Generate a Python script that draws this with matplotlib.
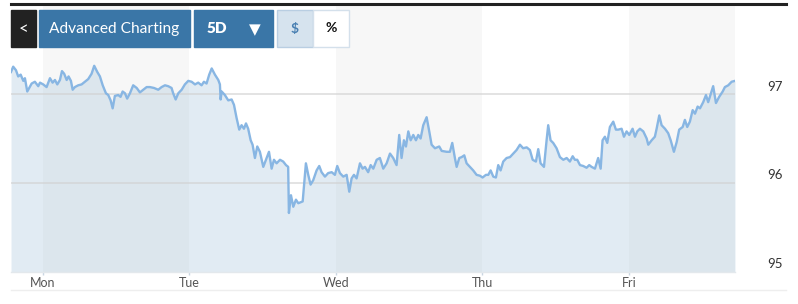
import numpy as np
import matplotlib.pyplot as plt
from matplotlib.patches import Rectangle
from matplotlib.lines import Line2D
from matplotlib.transforms import ScaledTranslation

plt.rcParams['font.family'] = ['Lato', 'DejaVu Sans']

# time in trading days from Monday's tick, price in dollars
t = [-0.218, -0.203, -0.184, -0.169, -0.152, -0.134, -0.123, -0.107, -0.094, -0.077,
     -0.055, -0.032, -0.020, 0.002, 0.025, 0.048, 0.066, 0.082, 0.098, 0.116,
     0.130, 0.145, 0.162, 0.175, 0.191, 0.203, 0.218, 0.241, 0.264, 0.287,
     0.309, 0.332, 0.350, 0.371, 0.389, 0.408, 0.430, 0.446, 0.462, 0.476,
     0.491, 0.514, 0.530, 0.544, 0.560, 0.575, 0.594, 0.616, 0.640, 0.662,
     0.685, 0.708, 0.730, 0.758, 0.787, 0.810, 0.833, 0.855, 0.878, 0.889,
     0.906, 0.924, 0.947, 0.969, 0.992, 1.015, 1.038, 1.060, 1.083, 1.099,
     1.117, 1.135, 1.152, 1.174, 1.197, 1.208, 1.213, 1.220, 1.242, 1.265,
     1.288, 1.304, 1.322, 1.340, 1.356, 1.372, 1.386, 1.401, 1.418, 1.431,
     1.447, 1.463, 1.481, 1.504, 1.527, 1.543, 1.561, 1.577, 1.595, 1.618,
     1.640, 1.659, 1.674, 1.679, 1.693, 1.709, 1.727, 1.743, 1.773, 1.795,
     1.811, 1.827, 1.845, 1.868, 1.886, 1.902, 1.925, 1.947, 1.971, 1.993,
     2.009, 2.027, 2.050, 2.073, 2.091, 2.107, 2.123, 2.141, 2.164, 2.182,
     2.198, 2.220, 2.237, 2.255, 2.278, 2.300, 2.323, 2.346, 2.369, 2.391,
     2.414, 2.432, 2.448, 2.464, 2.478, 2.494, 2.510, 2.528, 2.546, 2.562,
     2.578, 2.596, 2.619, 2.637, 2.653, 2.676, 2.705, 2.722, 2.756, 2.778,
     2.794, 2.812, 2.824, 2.842, 2.858, 2.876, 2.892, 2.915, 2.937, 2.960,
     2.983, 3.001, 3.024, 3.040, 3.056, 3.074, 3.092, 3.108, 3.124, 3.142,
     3.165, 3.188, 3.210, 3.233, 3.256, 3.278, 3.302, 3.324, 3.343, 3.365,
     3.381, 3.397, 3.420, 3.438, 3.449, 3.465, 3.483, 3.506, 3.529, 3.552,
     3.575, 3.597, 3.616, 3.631, 3.647, 3.666, 3.688, 3.711, 3.729, 3.745,
     3.768, 3.790, 3.807, 3.820, 3.836, 3.852, 3.870, 3.893, 3.911, 3.927,
     3.950, 3.966, 3.984, 4.002, 4.025, 4.041, 4.057, 4.075, 4.098, 4.121,
     4.132, 4.155, 4.177, 4.189, 4.207, 4.223, 4.246, 4.268, 4.285, 4.307,
     4.326, 4.343, 4.367, 4.382, 4.398, 4.416, 4.435, 4.451, 4.469, 4.485,
     4.507, 4.526, 4.541, 4.560, 4.575, 4.594, 4.616, 4.640, 4.655, 4.678,
     4.701, 4.724]
price = [97.25, 97.31, 97.27, 97.20, 97.22, 97.15, 97.18, 97.03, 97.07, 97.12,
         97.14, 97.09, 97.13, 97.11, 97.08, 97.18, 97.13, 97.16, 97.11, 97.16,
         97.26, 97.23, 97.16, 97.20, 97.15, 97.05, 97.08, 97.10, 97.11, 97.14,
         97.17, 97.23, 97.32, 97.25, 97.20, 97.10, 97.01, 96.99, 96.93, 96.84,
         96.98, 96.99, 96.97, 97.03, 97.01, 96.95, 97.01, 97.10, 97.07, 97.02,
         97.05, 97.08, 97.08, 97.07, 97.05, 97.08, 97.10, 97.09, 97.07, 97.01,
         96.94, 97.01, 97.05, 97.11, 97.15, 97.14, 97.11, 97.13, 97.10, 97.14,
         97.12, 97.22, 97.29, 97.22, 97.16, 97.11, 96.94, 97.03, 96.99, 96.93,
         96.94, 96.88, 96.73, 96.60, 96.65, 96.61, 96.67, 96.61, 96.48, 96.43,
         96.28, 96.41, 96.35, 96.18, 96.28, 96.35, 96.16, 96.26, 96.22, 96.26,
         96.24, 96.20, 96.18, 95.66, 95.86, 95.73, 95.81, 95.77, 95.79, 96.22,
         96.09, 95.98, 96.03, 96.14, 96.19, 96.12, 96.07, 96.11, 96.12, 96.09,
         96.19, 96.11, 96.07, 96.09, 95.90, 96.05, 96.09, 96.05, 96.22, 96.16,
         96.18, 96.12, 96.20, 96.16, 96.26, 96.28, 96.16, 96.22, 96.33, 96.28,
         96.20, 96.54, 96.28, 96.48, 96.41, 96.58, 96.48, 96.54, 96.48, 96.54,
         96.50, 96.65, 96.74, 96.58, 96.43, 96.39, 96.41, 96.36, 96.35, 96.35,
         96.45, 96.28, 96.18, 96.28, 96.29, 96.31, 96.22, 96.18, 96.14, 96.09,
         96.08, 96.06, 96.09, 96.09, 96.14, 96.07, 96.06, 96.20, 96.14, 96.24,
         96.28, 96.29, 96.33, 96.37, 96.43, 96.39, 96.40, 96.37, 96.26, 96.24,
         96.38, 96.22, 96.18, 96.48, 96.65, 96.48, 96.45, 96.39, 96.29, 96.26,
         96.28, 96.24, 96.30, 96.26, 96.26, 96.20, 96.19, 96.17, 96.20, 96.18,
         96.16, 96.28, 96.16, 96.48, 96.52, 96.45, 96.63, 96.69, 96.60, 96.60,
         96.61, 96.52, 96.58, 96.54, 96.61, 96.52, 96.58, 96.61, 96.58, 96.50,
         96.43, 96.48, 96.52, 96.61, 96.76, 96.65, 96.61, 96.56, 96.48, 96.35,
         96.46, 96.60, 96.63, 96.71, 96.63, 96.69, 96.82, 96.78, 96.86, 96.84,
         96.91, 96.99, 96.91, 97.01, 97.09, 96.90, 96.97, 97.03, 97.08, 97.10,
         97.14, 97.15]

days = ['Mon', 'Tue', 'Wed', 'Thu', 'Fri']
day_pos = [0, 1, 2, 3, 4]
y_ticks = [95, 96, 97]

W, H = 798, 304
fig = plt.figure(figsize=(W / 100, H / 100), dpi=100)


def fx(x):
    return x / W


def fy(y):
    return 1 - y / H


ax = fig.add_axes([fx(11), fy(271.5), (735 - 11) / W, 266 / H])
ax.set_xlim(-0.218, 4.724)
ax.set_ylim(95, 98)

# alternating day bands
for start, end in [(0, 1), (2, 3), (4, 4.724)]:
    ax.axvspan(start, end, color='#f7f7f7', lw=0, zorder=0)

ax.fill_between(t, price, 95, color='#9ebfd9', alpha=0.3, lw=0, zorder=1)
for v in [96, 97]:
    ax.axhline(v, color='#d2d2d2', lw=1.1, alpha=0.8, zorder=2)
ax.plot(t, price, color='#88b6e3', lw=1.7, zorder=3)

for s in ['top', 'left', 'right']:
    ax.spines[s].set_visible(False)
ax.spines['bottom'].set_color('#e3e8ec')
ax.spines['bottom'].set_linewidth(1.0)

ax.set_xticks(day_pos)
ax.set_xticklabels(days)
ax.tick_params(axis='x', length=2.5, width=1, color='#c9d6e2', labelsize=9,
               labelcolor='#555555', pad=1.5)

ax.yaxis.tick_right()
ax.set_yticks(y_ticks)
ax.set_yticklabels([str(v) for v in y_ticks])
ax.tick_params(axis='y', length=0, pad=23, labelsize=9.5, labelcolor='#333333')
for lab in ax.get_yticklabels():
    lab.set_transform(lab.get_transform() + ScaledTranslation(0, 0.085, fig.dpi_scale_trans))

# frame lines
fig.add_artist(Line2D([fx(11), fx(786)], [fy(4), fy(4)], color='#222222', lw=2.2))
fig.add_artist(Line2D([fx(11), fx(786)], [fy(290), fy(290)], color='#eeeeee', lw=1))


def box(x0, x1, face, edge=None):
    fig.add_artist(Rectangle((fx(x0), fy(46.5)), fx(x1) - fx(x0), fy(10) - fy(46.5),
                             facecolor=face, edgecolor=edge or face, lw=1, zorder=5))


box(11, 36, '#222222')
fig.text(fx(23.5), fy(29), '<', color='white', fontsize=12,
         ha='center', va='center', zorder=6)
box(39, 190, '#3a76a7')
fig.text(fx(114.5), fy(28.5), 'Advanced Charting', color='white', fontsize=11.2,
         ha='center', va='center', zorder=6)
box(194, 273, '#3a76a7')
fig.text(fx(217), fy(28.5), '5D', color='white', fontsize=11, fontweight='heavy',
         ha='center', va='center', zorder=6)
fig.text(fx(254.5), fy(29.5), '▼', color='white', fontsize=11,
         family='DejaVu Sans', ha='center', va='center', zorder=6)
box(277, 313, '#d6e3ee', '#b9cee2')
fig.text(fx(295), fy(28.5), '$', color='#4a80b2', fontsize=10, fontweight='bold',
         ha='center', va='center', zorder=6)
box(313, 349, '#ffffff', '#d4e0eb')
fig.text(fx(331), fy(28.5), '%', color='#111111', fontsize=10, fontweight='bold',
         ha='center', va='center', zorder=6)

fig.savefig('out.png', dpi=100)
